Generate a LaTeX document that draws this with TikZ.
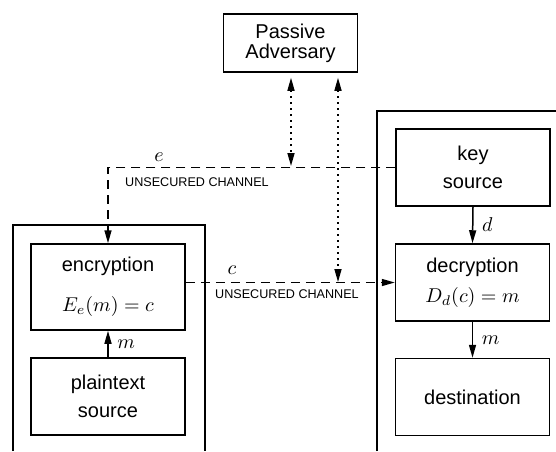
\documentclass[tikz,border=0pt]{standalone}
\usepackage{fontspec}
\setmainfont{Liberation Sans}
\usetikzlibrary{calc,arrows.meta,positioning}

\tikzset{
  blok/.style={draw,line width=0.75pt,align=center,inner sep=0pt,
    minimum width=77pt,minimum height=38.5pt,font=\fontsize{10}{14}\selectfont},
  chan/.style={line width=0.75pt,dash pattern=on 4.5pt off 3pt},
  tap/.style={line width=0.75pt,dash pattern=on 0.8pt off 2.2pt},
  chantext/.style={font=\fontsize{6.3}{7}\selectfont},
  tip/.style={-{Triangle[length=6.5pt,width=3.5pt]}},
  tips/.style={{Triangle[length=6.5pt,width=3.5pt]}-{Triangle[length=6.5pt,width=3.5pt]}},
}

\begin{document}
\begin{tikzpicture}[x=0.5pt,y=-0.5pt]
            \useasboundingbox (0,0) rectangle (556,451);

            \node[blok,minimum width=67pt,minimum height=29pt,font=\fontsize{10}{10}\selectfont] (Adv) at (290.5,43) {Passive\\Adversary};
            \node[blok] (Key) at (473,167.5) {key\\source};
            \node[blok] (Dec) at (472.5,282.5) {decryption\\[1pt]$D_d(c)=m$};
            \node[blok] (Dest) at (472.5,397) {destination};
            \node[blok,minimum height=43pt] (Enc) at (108,287) {encryption\\[6pt]$E_e(m)=c$};
            \node[blok] (Plain) at (108,396.5) {plaintext\\source};

            \coordinate (T1) at (291,168);
            \coordinate (T2) at (338,282);

            % outer frames
            \draw[line width=0.75pt] (13,451) |- (205,225) -- (205,451);
            \draw[line width=0.75pt] (377,451) |- (556,111);

            % channels
            \draw[chan,tip] (Key.west) -| (Enc.north);
            \draw[chan,tip] (Enc.east |- Dec.west) -- (Dec.west);

            \draw[tap,tips,shorten <=2.5pt,shorten >=1pt] (Adv.south -| T1) -- (T1);
            \draw[tap,tips,shorten <=2.5pt] (Adv.south -| T2) -- (T2);

            \draw[line width=0.75pt,tip] (Key.south) -- (Dec.north) node[midway,right=1pt] (dlab) {$d$};
            \draw[line width=0.75pt,tip] (Dec.south) -- (Dest.north) node[midway,right=1pt] (mlab) {$m$};
            \draw[line width=0.75pt,tip] (Plain.north) -- (Enc.south) node[midway,right=1pt] (mlab2) {$m$};

            \node (elab) at (159,157) {$e$};
            \node (clab) at (232,270) {$c$};
        \foreach \n/\p in {1/{(197,182)},2/{(287,294)}}
        {
            \node[chantext] (uc\n) at \p {UNSECURED CHANNEL};
        };
\end{tikzpicture}
\end{document}
